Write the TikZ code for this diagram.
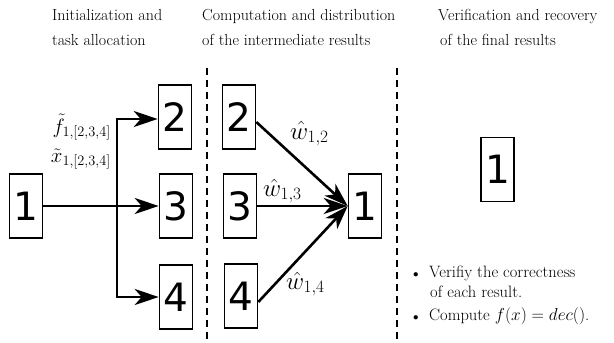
\documentclass[tikz,border=0pt]{standalone}
\usepackage{fontspec}
\usetikzlibrary{arrows.meta}
\newfontfamily\digitfont{DejaVu Sans}
\begin{document}
\begin{tikzpicture}[x=1pt,y=-1pt,
  numbox/.style={draw,line width=1.6pt,minimum width=33pt,minimum height=64pt,inner sep=0pt,font=\digitfont\fontsize{39}{41}\selectfont},
  flow/.style={line width=2.6pt,-{Stealth[length=24pt,width=16pt,inset=7pt]}},
  divider/.style={line width=1.2pt,dash pattern=on 7pt off 5pt},
  head/.style={anchor=base west,inner sep=0pt,font=\fontsize{16}{19}\selectfont},
  smalllbl/.style={inner sep=0pt,anchor=base east,font=\fontsize{22.5}{24}\selectfont},
  biglbl/.style={inner sep=0pt,anchor=base west,font=\fontsize{27}{30}\selectfont},
  itemtext/.style={anchor=base west,inner sep=0pt,font=\fontsize{16.5}{19}\selectfont},
  itemdot/.style={anchor=base west,inner sep=0pt,font=\fontsize{11}{12}\selectfont}]
\useasboundingbox (0,0) rectangle (614,343);
% headings
\node[head] (h1a) at (52,20) {Initialization and};
\node[head] (h1b) at (52,45) {task allocation};
\node[head] (h2a) at (202,20) {Computation and distribution};
\node[head] (h2b) at (202,45) {of the intermediate results};
\node[head] (h3a) at (438,20) {Verification and recovery};
\node[head] (h3b) at (440,45) {of the final results};
% dividers
\coordinate (d1t) at (207,68); \coordinate (d1b) at (207,343);
\coordinate (d2t) at (397,68); \coordinate (d2b) at (397,343);
\draw[divider] (d1t) -- (d1b);
\draw[divider] (d2t) -- (d2b);
% left column
\node[numbox] (a1) at (26,206) {1};
\node[numbox] (a2) at (175,117) {2};
\node[numbox] (a3) at (176,206) {3};
\node[numbox] (a4) at (176,297) {4};
\coordinate (tt) at (117,119);
\coordinate (tb) at (117,297);
\draw[line width=2.6pt] (tt) -- (tb);
\draw[flow] (a1.east) -- (a3.west);
\draw[flow] ([xshift=-1.3pt]tt) -- (tt -| a2.west);
\draw[flow] ([xshift=-1.3pt]tb) -- (a4.west);
\node[smalllbl] (lf) at (111,133) {$\tilde{f}_{1,[2,3,4]}$};
\node[smalllbl] (lx) at (111,162) {$\tilde{x}_{1,[2,3,4]}$};
% middle column
\node[numbox] (b2) at (239,117) {2};
\node[numbox] (b3) at (240,206) {3};
\node[numbox] (b4) at (241,296) {4};
\node[numbox] (c1) at (365,206) {1};
\draw[flow] ([yshift=-5pt]b2.east) -- (c1.west);
\draw[flow] (b3.east) -- (c1.west);
\draw[flow] ([yshift=-6pt]b4.east) -- (c1.west);
\node[biglbl] (w2) at (290,139) {$\hat{w}_{1,2}$};
\node[biglbl] (w3) at (263,196) {$\hat{w}_{1,3}$};
\node[biglbl] (w4) at (286,289) {$\hat{w}_{1,4}$};
% right column
\node[numbox] (e1) at (497.5,169.5) {1};
\node[itemdot] (bu1) at (413,277) {$\bullet$};
\node[itemtext] (t1) at (429,277) {Verifiy the correctness};
\node[itemtext] (t2) at (430,297) {of each result.};
\node[itemdot] (bu2) at (413,320) {$\bullet$};
\node[itemtext] (t3) at (429,320) {Compute $f(x)=dec()$.};
\end{tikzpicture}
\end{document}
